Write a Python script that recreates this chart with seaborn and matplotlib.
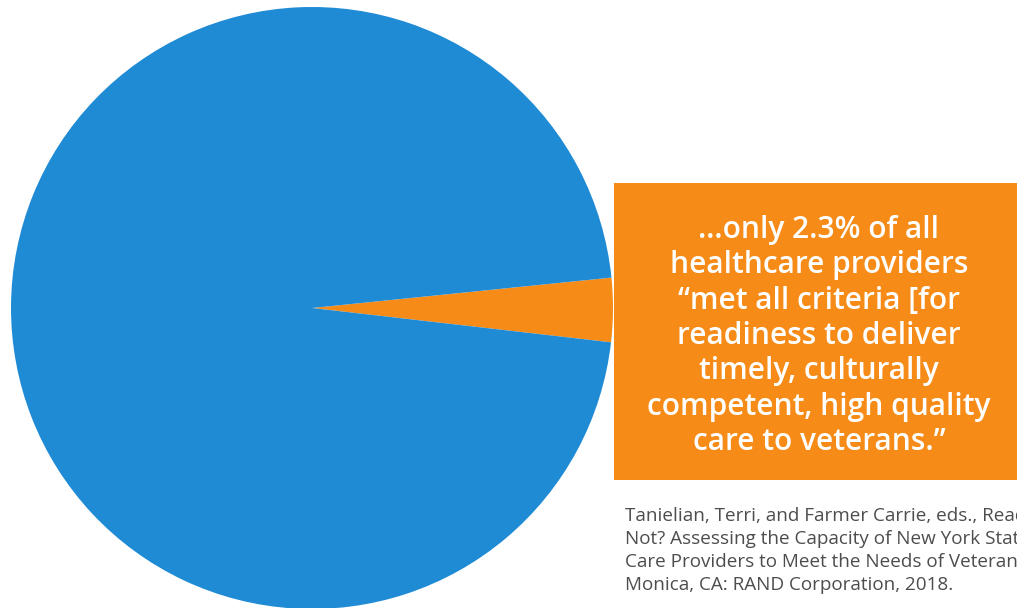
import matplotlib.pyplot as plt
import seaborn as sns
from matplotlib.patches import Rectangle

# shares as drawn in the picture (orange wedge, rest of pie)
labels = ["Met all criteria", "Did not meet all criteria"]
shares = [3.43, 96.57]
colors = ["#F68B17", "#208BD5"]

callout = ("\u2026only 2.3% of all\nhealthcare providers\n\u201cmet all criteria [for\n"
           "readiness to deliver\ntimely, culturally\ncompetent, high quality\n"
           "care to veterans.\u201d")
source_lines = [
    "Tanielian, Terri, and Farmer Carrie, eds., Ready or",
    "Not? Assessing the Capacity of New York State Health",
    "Care Providers to Meet the Needs of Veterans. Santa",
    "Monica, CA: RAND Corporation, 2018.",
]

W, H = 1017, 608
sns.set_theme(style="white")
plt.rcParams["font.family"] = ["Open Sans", "DejaVu Sans"]

fig = plt.figure(figsize=(W / 100, H / 100), dpi=100)
ax = fig.add_axes([0, 0, 1, 1])

ax.pie(shares, colors=colors, startangle=-6.55, counterclock=True,
       center=(312, H - 308), radius=301, frame=True,
       wedgeprops={"linewidth": 0})
ax.set_xlim(0, W)
ax.set_ylim(0, H)
ax.set_aspect("equal")
ax.axis("off")

ax.add_patch(Rectangle((614, H - 480), 420, 297, facecolor=colors[0], edgecolor="none", zorder=3))
ax.text(819, H - 336, callout, ha="center", va="center", color="white",
        fontsize=21.5, fontweight="semibold", linespacing=1.23, zorder=4)

for i, line in enumerate(source_lines):
    ax.text(625, H - 516 - i * 23, line, ha="left", va="center", color="#4d4d4d",
            fontsize=13.6, fontweight="normal", zorder=4)

fig.savefig("out.png", dpi=100)
plt.close(fig)
